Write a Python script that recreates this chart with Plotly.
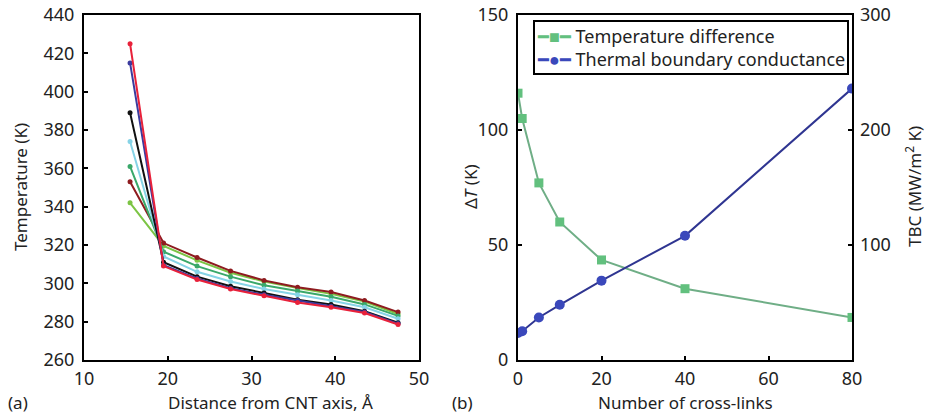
import plotly.graph_objects as go

# ---------- Panel (a) data ----------
distance = [15.5, 19.5, 23.5, 27.5, 31.5, 35.5, 39.5, 43.5, 47.5]
temp_red = [425, 309, 302, 297, 293.5, 290, 287.5, 284.5, 278.5]
temp_blue = [415, 309.5, 302.5, 297.5, 294, 291, 288, 285, 279]
temp_black = [389, 311, 303.5, 298.5, 295, 291.5, 289, 285.5, 279.5]
temp_cyan = [374, 314, 306, 301, 297, 294, 291, 287.5, 281.5]
temp_teal = [361, 316.5, 309, 303.5, 299, 296, 293, 289, 283]
temp_darkred = [353, 321, 313.5, 306.5, 301.5, 298, 295.5, 291, 285]
temp_green = [342, 319.5, 312, 305.5, 301, 297.5, 294.5, 290.5, 284]

series_a = [
    (temp_green, "#7cc444"),
    (temp_darkred, "#8e1b1f"),
    (temp_teal, "#3aa86a"),
    (temp_cyan, "#86d3e6"),
    (temp_black, "#111111"),
    (temp_blue, "#3b3b9e"),
    (temp_red, "#e8213a"),
]

# ---------- Panel (b) data ----------
crosslinks = [0, 1, 5, 10, 20, 40, 80]
delta_t = [116, 105, 77, 60, 43.5, 31, 18.5]
tbc = [23.5, 25, 37, 48, 69, 108, 236]
legend_names = ["Temperature difference", "Thermal boundary conductance"]

x_ticks_a = [10, 20, 30, 40, 50]
y_ticks_a = [260, 280, 300, 320, 340, 360, 380, 400, 420, 440]
x_ticks_b = [0, 20, 40, 60, 80]
y_ticks_b = [0, 50, 100, 150]
y2_ticks_b = [100, 200, 300]

FONT = "Noto Sans"
FS = 17
TFS = 18
W, H = 927, 415
GREEN_M, GREEN_L = "#62c07e", "#6fae86"
BLUE_M, BLUE_L = "#3a48bb", "#2f3591"

fig = go.Figure()

for vals, col in series_a:
    fig.add_trace(go.Scatter(
        x=distance, y=vals, mode="lines+markers",
        line=dict(color=col, width=2),
        marker=dict(color=col, size=5),
        xaxis="x", yaxis="y", showlegend=False))

fig.add_trace(go.Scatter(
    x=crosslinks, y=delta_t, mode="lines+markers",
    name=legend_names[0],
    line=dict(color=GREEN_L, width=2),
    marker=dict(color=GREEN_M, size=9, symbol="square"),
    xaxis="x2", yaxis="y2", showlegend=False))
fig.add_trace(go.Scatter(
    x=crosslinks, y=tbc, mode="lines+markers",
    name=legend_names[1],
    line=dict(color=BLUE_L, width=2),
    marker=dict(color=BLUE_M, size=10, symbol="circle"),
    xaxis="x2", yaxis="y3", showlegend=False))

def px_x(p):
    return p / W

def px_y(p):
    return (H - p) / H

ydom = [px_y(360), px_y(15)]
tickfont = dict(family=FONT, size=TFS, color="#222")
axis_common = dict(
    showline=True, linecolor="black", linewidth=2, mirror=True,
    ticks="inside", ticklen=4, tickcolor="black", tickwidth=1.5,
    showgrid=False, zeroline=False, tickfont=tickfont,
    automargin=False,
)

fig.update_layout(
    width=W, height=H,
    margin=dict(l=0, r=0, t=0, b=0, autoexpand=False),
    paper_bgcolor="white", plot_bgcolor="white",
    font=dict(family=FONT, size=FS, color="#222"),
    showlegend=False,
    xaxis=dict(domain=[px_x(84), px_x(419)], range=[10, 50],
               tickvals=x_ticks_a, anchor="y", ticklabelstandoff=1,
               **axis_common),
    yaxis=dict(domain=ydom, range=[260, 440], tickvals=y_ticks_a,
               anchor="x", ticklabelstandoff=4, **axis_common),
    xaxis2=dict(domain=[px_x(518), px_x(852)], range=[0, 80],
                tickvals=x_ticks_b, anchor="y2", ticklabelstandoff=1,
                **axis_common),
    yaxis2=dict(domain=ydom, range=[0, 150], tickvals=y_ticks_b,
                anchor="x2", ticklabelstandoff=4, **axis_common),
    yaxis3=dict(range=[0, 300], tickvals=y2_ticks_b, overlaying="y2",
                side="right", anchor="x2",
                showline=False, ticks="inside", ticklen=4, tickcolor="black",
                tickwidth=1.5, showgrid=False, zeroline=False,
                tickfont=tickfont, ticklabelstandoff=7, automargin=False),
)

legend_text = (
    f'<span style="color:{GREEN_M}">━■━</span> {legend_names[0]}<br>'
    f'<span style="color:{BLUE_M}">━●━</span> {legend_names[1]}'
)
fig.add_annotation(xref="paper", yref="paper", showarrow=False,
                   x=px_x(533), y=px_y(20), xanchor="left", yanchor="top",
                   align="left", text=legend_text,
                   bgcolor="white", bordercolor="black", borderwidth=2,
                   borderpad=2,
                   font=dict(family=FONT, size=18, color="#222"))

annos = [
    dict(text="Temperature (K)", x=px_x(20), y=px_y(187), textangle=-90),
    dict(text="Δ<i>T</i> (K)", x=px_x(470), y=px_y(187), textangle=-90),
    dict(text="TBC (MW/m<sup>2</sup> K)", x=px_x(913), y=px_y(187), textangle=-90),
    dict(text="Distance from CNT axis, Å", x=px_x(270), y=px_y(402)),
    dict(text="Number of cross-links", x=px_x(685), y=px_y(402)),
    dict(text="(a)", x=px_x(18), y=px_y(402)),
    dict(text="(b)", x=px_x(462), y=px_y(402)),
]
for a in annos:
    fig.add_annotation(xref="paper", yref="paper", showarrow=False,
                       xanchor="center", yanchor="middle",
                       font=dict(family=FONT, size=FS, color="#222"), **a)

fig.write_html("out.html")
